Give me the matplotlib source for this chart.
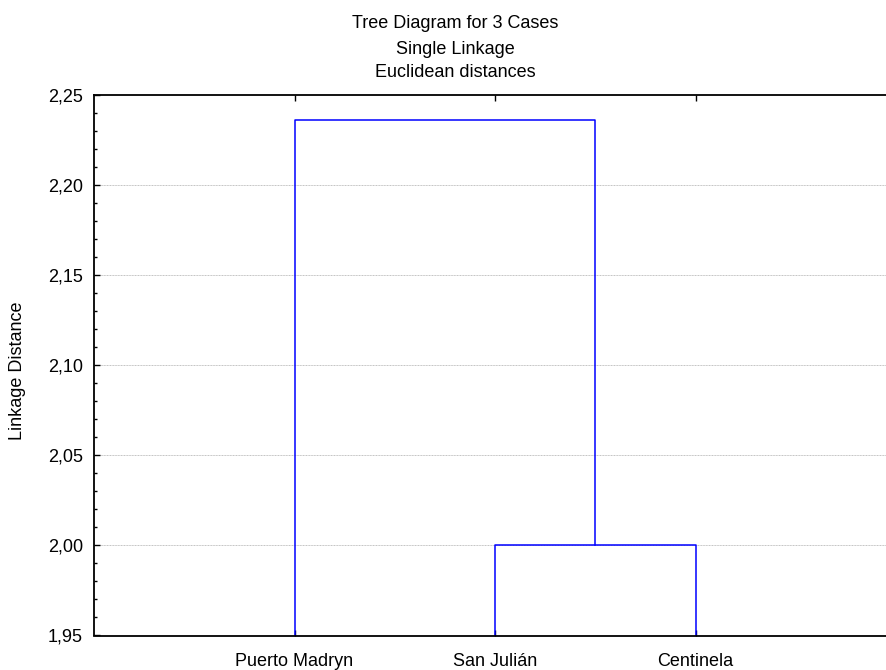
import matplotlib
matplotlib.use("Agg")
import matplotlib.pyplot as plt
from matplotlib.ticker import FuncFormatter, MultipleLocator

plt.rcParams['font.family'] = ['Liberation Sans', 'DejaVu Sans']

cases = ["Puerto Madryn", "San Julián", "Centinela"]
merge_low = 2.00      # San Julián + Centinela
merge_high = 2.236    # Puerto Madryn + (San Julián, Centinela)
y_min, y_max = 1.95, 2.25
title_lines = ["Tree Diagram for 3 Cases", "Single Linkage", "Euclidean distances"]
ylabel = "Linkage Distance"

FS = 13
W, H = 886, 670
fig = plt.figure(figsize=(W / 100, H / 100), dpi=100)
left, right, top, bottom = 94, 896, 94.7, 635.5
ax = fig.add_axes([left / W, 1 - bottom / H, (right - left) / W, (bottom - top) / H])

x = [1, 2, 3]
blue = "#0000ff"
lw = 1.1
# lower cluster
ax.plot([x[1], x[1], x[2], x[2]], [y_min, merge_low, merge_low, y_min], color=blue, lw=lw, clip_on=False)
mid = (x[1] + x[2]) / 2
# upper cluster
ax.plot([x[0], x[0], mid, mid], [y_min, merge_high, merge_high, merge_low], color=blue, lw=lw, clip_on=False)

ax.set_xlim(0, 4)
ax.set_ylim(y_min, y_max)
ax.set_xticks(x)
ax.set_xticklabels(cases, fontsize=FS)
ax.yaxis.set_major_locator(MultipleLocator(0.05))
ax.yaxis.set_minor_locator(MultipleLocator(0.01))
ax.yaxis.set_major_formatter(FuncFormatter(lambda v, p: f"{v:.2f}".replace(".", ",")))
ax.tick_params(axis='y', which='major', direction='in', length=4, width=1, labelsize=FS, pad=8)
ax.tick_params(axis='y', which='minor', direction='in', length=2, width=1)
ax.tick_params(axis='x', which='major', direction='in', length=4, width=1, top=True, labelsize=FS, pad=12.5)
ax.tick_params(axis='x', which='minor', bottom=False, top=False)

for yv in [2.00, 2.05, 2.10, 2.15, 2.20]:
    ax.axhline(yv, color="#c0c0c0", lw=0.7, ls=(0, (1, 0.6)), zorder=0)

for s in ['left', 'top', 'bottom']:
    ax.spines[s].set_linewidth(1.3)
    ax.spines[s].set_color('black')
ax.spines['right'].set_visible(False)

ax.set_ylabel(ylabel, fontsize=FS)
ax.yaxis.set_label_coords(-(94 - 26) / (right - left), 0.49)

baselines = [28.3, 54.5, 77.3]
for t, b in zip(title_lines, baselines):
    fig.text(455 / W, 1 - b / H, t, ha='center', va='baseline', fontsize=FS)

fig.savefig("out.png", dpi=100)
